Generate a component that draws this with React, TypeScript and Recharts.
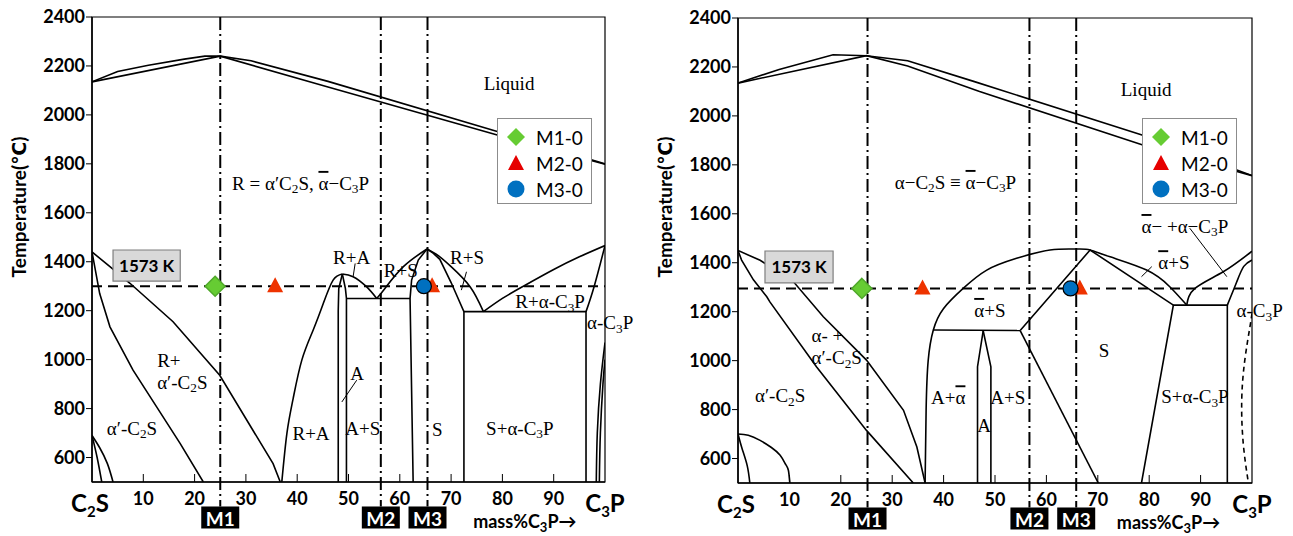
import React from "react";
import {
  ComposedChart,
  Line,
  Scatter,
  XAxis,
  YAxis,
  ReferenceLine,
  ReferenceDot,
  ReferenceArea,
} from "recharts";

type Pt = { x: number; t: number };
const pts = (a: number[][]): Pt[] => a.map(([x, t]) => ({ x, t }));

const X_TICKS = [0, 10, 20, 30, 40, 50, 60, 70, 80, 90, 100];
const Y_TICKS = [600, 800, 1000, 1200, 1400, 1600, 1800, 2000, 2200, 2400];
const M_NAMES = ["M1", "M2", "M3"];
const LEGEND_NAMES = ["M1-0", "M2-0", "M3-0"];

// ---- left diagram: phase boundaries (mass% C3P, °C)
const L_liqUp = pts([[0, 2135], [5, 2177], [11, 2203], [18, 2228], [22, 2240], [25, 2240], [31, 2221], [46, 2137], [79, 1932], [100, 1800]]);
const L_liqLow = pts([[0, 2135], [25, 2240], [46, 2114], [79, 1918], [100, 1798]]);
const L_c2sA = pts([[0, 1440], [1.5, 1270], [3.5, 1134], [8, 957], [12.6, 807], [17.2, 657], [21.7, 500]]);
const L_c2sB = pts([[0, 1440], [3.5, 1380], [7.4, 1312], [15.8, 1155], [24.9, 936], [35.3, 575], [36.7, 500]]);
const L_lowA = pts([[0, 690], [1, 600], [1.9, 500]]);
const L_lowB = pts([[0, 690], [1.5, 640], [3, 575], [4.1, 500]]);
const L_RA_left = pts([[37, 500], [38, 700], [39.2, 840], [40.9, 998], [43.1, 1120], [45.1, 1230], [47, 1325], [48.8, 1350]]);
const L_RA_right = pts([[48.8, 1350], [50.9, 1339], [53.5, 1298], [55.5, 1250]]);
const L_RS_rise = pts([[55.5, 1250], [57.1, 1291], [60.7, 1380], [65.3, 1452]]);
const L_A1 = pts([[48.8, 1350], [48.1, 1290], [48, 1200], [48, 500]]);
const L_A2 = pts([[48.8, 1350], [49.4, 1290], [49.6, 1250], [49.6, 500]]);
const L_eut = pts([[49.6, 1250], [62, 1250]]);
const L_Sleft = pts([[65.3, 1452], [63.6, 1407], [62.3, 1325], [62, 1250], [62.6, 500]]);
const L_Sright = pts([[65.3, 1452], [66.5, 1435], [67.8, 1410], [70, 1315], [72.5, 1196], [72.5, 500]]);
const L_Rbound = pts([[65.3, 1452], [67.5, 1425], [70, 1380], [73.7, 1298], [76.3, 1196]]);
const L_Rrect = pts([[72.5, 1196], [96.3, 1196], [96.3, 500]]);
const L_Rtop = pts([[76.3, 1196], [80, 1250], [84.1, 1300], [90, 1368], [95, 1420], [100, 1466]]);
const L_aC3P = pts([[96.3, 1196], [97.9, 1300], [100, 1466]]);
const L_br1 = pts([[98.3, 500], [98.5, 700], [99.1, 900], [100, 1070]]);
const L_br2 = pts([[98.9, 500], [99.1, 700], [99.6, 900], [100, 1000]]);
const L_leaders = [
  pts([[51.3, 1393], [50.9, 1339]]),
  pts([[51.6, 916], [48.7, 827]]),
  pts([[73.0, 1359], [72.0, 1284]]),
];

// ---- right diagram
const R_liqUp = pts([[0, 2134], [8, 2190], [18.5, 2250], [25, 2246], [33, 2225], [46, 2140], [78.6, 1922], [100, 1756]]);
const R_liqLow = pts([[0, 2134], [25, 2246], [33, 2204], [47, 2100], [78.6, 1882], [100, 1756]]);
const R_c2sA = pts([[0, 1450], [0.7, 1411], [3, 1330], [5.6, 1261], [6.2, 1240], [15.3, 974], [25, 715], [34.1, 500]]);
const R_c2sB = pts([[0, 1450], [4.3, 1410], [10.8, 1322], [16.6, 1179], [25, 1002], [32.2, 797], [34.8, 647], [36.4, 500]]);
const R_arc = pts([[0, 700], [2, 695], [4.3, 674], [6.5, 645], [8.2, 613], [9.3, 575], [9.8, 552], [10.1, 500]]);
const R_arcIn = pts([[0, 700], [0.8, 640], [1.8, 570], [2.3, 500]]);
const R_dome = pts([[36.4, 500], [36.6, 800], [37, 1000], [38, 1125], [40, 1213], [43.8, 1295], [48.4, 1370], [54.2, 1418], [60.7, 1452], [65.9, 1456], [68.5, 1452], [72.4, 1424], [79.5, 1370], [84, 1302], [87.3, 1227]]);
const R_Sup = pts([[54.9, 1123], [68.5, 1452], [84.7, 1227]]);
const R_rect = pts([[78.5, 500], [84.7, 1227], [95.2, 1227], [95.2, 500]]);
const R_rise = pts([[87.3, 1227], [88.9, 1295], [94.4, 1363], [100, 1447]]);
const R_aC3P = pts([[95.2, 1227], [97, 1320], [98.4, 1385], [100, 1411]]);
const R_eut = pts([[38, 1125], [54.9, 1123]]);
const R_A1 = pts([[47.7, 1122], [46.6, 975], [46.6, 500]]);
const R_A2 = pts([[47.7, 1122], [49.2, 975], [49.2, 500]]);
const R_Sbot = pts([[54.9, 1123], [70.1, 500]]);
const R_dash = pts([[100, 1193], [99.6, 1138], [98.6, 1002], [98, 838], [98.3, 661], [99.3, 500]]);
const R_leaders = [
  pts([[87.9, 1541], [95.1, 1343]]),
  pts([[80.5, 1384], [78.5, 1343]]),
];

// ---- experiment points
const L_M1 = pts([[24, 1300]]);
const L_M2 = pts([[35.7, 1300], [66.3, 1300]]);
const L_M3 = pts([[64.7, 1300]]);
const R_M1 = pts([[24.1, 1295]]);
const R_M2 = pts([[35.9, 1295], [66.5, 1295]]);
const R_M3 = pts([[64.7, 1295]]);

const L_MPOS = [25, 56.3, 65.4];
const R_MPOS = [25.2, 56.7, 65.8];

// ---- region labels (s, x, t, anchor)
type Lab = { s: string; x: number; t: number; a: "start" | "middle" };
const L_LABELS: Lab[] = [
  { s: "Liquid", x: 81.3, t: 2131, a: "middle" },
  { s: "R = α′C_2S, ~α−C_3P", x: 27.3, t: 1722, a: "start" },
  { s: "R+A", x: 50.6, t: 1419, a: "middle" },
  { s: "R+S", x: 60.2, t: 1366, a: "middle" },
  { s: "R+S", x: 73.1, t: 1419, a: "middle" },
  { s: "R+α-C_3P", x: 89.3, t: 1238, a: "middle" },
  { s: "α-C_3P", x: 96.5, t: 1153, a: "start" },
  { s: "R+", x: 12.7, t: 998, a: "start" },
  { s: "α′-C_2S", x: 12.7, t: 908, a: "start" },
  { s: "α′-C_2S", x: 7.8, t: 720, a: "middle" },
  { s: "R+A", x: 42.7, t: 700, a: "middle" },
  { s: "A", x: 51.7, t: 945, a: "middle" },
  { s: "A+S", x: 52.8, t: 720, a: "middle" },
  { s: "S", x: 67.3, t: 716, a: "middle" },
  { s: "S+α-C_3P", x: 83.4, t: 720, a: "middle" },
];
const R_LABELS: Lab[] = [
  { s: "Liquid", x: 79.4, t: 2110, a: "middle" },
  { s: "α−C_2S ≡ ~α−C_3P", x: 30.5, t: 1730, a: "start" },
  { s: "~α− +α−C_3P", x: 78.5, t: 1550, a: "start" },
  { s: "~α+S", x: 84.8, t: 1402, a: "middle" },
  { s: "α-C_3P", x: 97, t: 1206, a: "start" },
  { s: "S", x: 71.2, t: 1044, a: "middle" },
  { s: "S+α-C_3P", x: 88.9, t: 854, a: "middle" },
  { s: "A+S", x: 52.5, t: 850, a: "middle" },
  { s: "A", x: 47.9, t: 736, a: "middle" },
  { s: "~α+S", x: 49, t: 1207, a: "middle" },
  { s: "A+~α", x: 40.9, t: 850, a: "middle" },
  { s: "α- +", x: 14.3, t: 1104, a: "start" },
  { s: "α′-C_2S", x: 14.3, t: 1014, a: "start" },
  { s: "α′-C_2S", x: 8.2, t: 858, a: "middle" },
];

const SERIF = "'Liberation Serif', 'DejaVu Serif', serif";
const SANS = "Lato, 'DejaVu Sans', sans-serif";
const LAB_FS = 19;

function rich(s: string, fs: number) {
  const parts: React.ReactNode[] = [];
  let buf = "";
  let dy = 0;
  let k = 0;
  const sub = fs * 0.28;
  const flush = () => {
    if (!buf) return;
    parts.push(<tspan key={k++} dy={dy || undefined}>{buf}</tspan>);
    buf = "";
    dy = 0;
  };
  for (let i = 0; i < s.length; i++) {
    const c = s[i];
    if (c === "_") {
      flush();
      parts.push(
        <tspan key={k++} dy={sub + dy} fontSize={fs * 0.7}>
          {s[++i]}
        </tspan>
      );
      dy = -sub;
    } else if (c === "~") {
      flush();
      parts.push(
        <tspan key={k++} dy={dy || undefined} textDecoration="overline">
          {s[++i]}
        </tspan>
      );
      dy = 0;
    } else buf += c;
  }
  flush();
  return parts;
}

const XTick = (p: any) => {
  const { x, y, payload } = p;
  const v = payload.value;
  const big = { fontFamily: SANS, fontWeight: 700, fontSize: 24, fill: "#000" };
  if (v === 0)
    return (
      <text x={x - 2} y={y + 30} textAnchor="middle" style={big}>
        C<tspan dy={5} fontSize={15}>2</tspan>
        <tspan dy={-5}>S</tspan>
      </text>
    );
  if (v === 100)
    return (
      <text x={x} y={y + 30} textAnchor="middle" style={big}>
        C<tspan dy={5} fontSize={15}>3</tspan>
        <tspan dy={-5}>P</tspan>
      </text>
    );
  return (
    <g>
      <line x1={x} x2={x} y1={y} y2={y - 8} stroke="#000" strokeWidth={1} />
      <text x={x} y={y + 23} textAnchor="middle" style={{ fontFamily: SANS, fontWeight: 700, fontSize: 18, fill: "#000" }}>
        {v}
      </text>
    </g>
  );
};

const diamond = (p: any) => (
  <polygon
    points={`${p.cx},${p.cy - 10} ${p.cx + 10},${p.cy} ${p.cx},${p.cy + 10} ${p.cx - 10},${p.cy}`}
    fill="#66cc33"
    stroke="#4fa82a"
    strokeWidth={1.5}
  />
);
const triangle = (p: any) => (
  <polygon points={`${p.cx},${p.cy - 9} ${p.cx + 8},${p.cy + 6} ${p.cx - 8},${p.cy + 6}`} fill="#ee3300" />
);
const circle = (p: any) => <circle cx={p.cx} cy={p.cy} r={7.5} fill="#0070c0" stroke="#000" strokeWidth={1.2} />;

type Seg = { d: Pt[]; smooth?: boolean; dashed?: boolean };

function Panel(props: {
  segs: Seg[];
  leaders: Pt[][];
  labels: Lab[];
  m1: Pt[];
  m2: Pt[];
  m3: Pt[];
  mPos: number[];
  iso: number;
  kbox: number[];
  massX: number;
  top: number;
  bottom: number;
  right: number;
}) {
  const { segs, leaders, labels, m1, m2, m3, mPos, iso, kbox, massX, top, bottom, right } = props;
  return (
    <ComposedChart width={650} height={536} margin={{ top, right, bottom, left: 32 }}>
      <XAxis
        type="number"
        dataKey="x"
        domain={[0, 100]}
        ticks={X_TICKS}
        interval={0}
        height={30}
        tickSize={0}
        tickMargin={0}
        tickLine={false}
        axisLine={{ stroke: "#000", strokeWidth: 1.5 }}
        tick={(p: any) => <XTick {...p} />}
        allowDataOverflow
      />
      <YAxis
        type="number"
        dataKey="t"
        domain={[500, 2400]}
        ticks={Y_TICKS}
        interval={0}
        width={60}
        tickSize={6}
        tickMargin={1}
        axisLine={{ stroke: "#000", strokeWidth: 1.5 }}
        tickLine={{ stroke: "#000" }}
        tick={{ fill: "#000", fontSize: 18, fontWeight: 700, fontFamily: SANS }}
        allowDataOverflow
        label={(p: any) => (
          <text
            transform="translate(18, 207) rotate(-90)"
            textAnchor="middle"
            dominantBaseline="central"
            style={{ fontFamily: SANS, fontWeight: 700, fontSize: 19, fill: "#000" }}
          >
            Temperature(℃)
          </text>
        )}
      />
      <ReferenceArea x1={0} x2={100} y1={500} y2={2400} fill="none" stroke="#000" strokeWidth={1.2} />
      {segs.map((s, i) => (
        <Line
          key={`s${i}`}
          data={s.d}
          dataKey="t"
          type={s.smooth ? "natural" : "linear"}
          stroke="#000"
          strokeWidth={1.6}
          strokeDasharray={s.dashed ? "5 4" : undefined}
          dot={false}
          activeDot={false}
          isAnimationActive={false}
        />
      ))}
      {leaders.map((d, i) => (
        <Line key={`l${i}`} data={d} dataKey="t" type="linear" stroke="#000" strokeWidth={1} dot={false} activeDot={false} isAnimationActive={false} />
      ))}
      <ReferenceLine y={iso} stroke="#000" strokeWidth={2} strokeDasharray="10 6" />
      {mPos.map((m, i) => (
        <ReferenceLine
          key={`m${i}`}
          segment={[{ x: m, y: 2400 }, { x: m, y: 400 }]}
          stroke="#000"
          strokeWidth={2}
          strokeDasharray="13 4 2 4"
          ifOverflow="visible"
        />
      ))}
      <ReferenceArea
        x1={kbox[0]}
        x2={kbox[1]}
        y1={kbox[2]}
        y2={kbox[3]}
        fill="#d9d9d9"
        fillOpacity={1}
        stroke="#7f7f7f"
        strokeWidth={1.2}
        zIndex={700}
        label={{ value: "1573 K", position: "center", fill: "#000", fontSize: 17, fontWeight: 700, fontFamily: SANS }}
      />
      {labels.map((l, i) => (
        <ReferenceDot
          key={`t${i}`}
          x={l.x}
          y={l.t}
          r={0}
          ifOverflow="visible"
          shape={(pp: any) => (
            <text x={pp.cx} y={pp.cy} textAnchor={l.a} dominantBaseline="central" fontFamily={SERIF} fontSize={LAB_FS} fill="#000">
              {rich(l.s, LAB_FS)}
            </text>
          )}
        />
      ))}
      <Scatter data={m1} shape={diamond} isAnimationActive={false} />
      <Scatter data={m2} shape={triangle} isAnimationActive={false} />
      <Scatter data={m3} shape={circle} isAnimationActive={false} />
      {mPos.map((m, i) => (
        <ReferenceDot
          key={`mb${i}`}
          x={m}
          y={355}
          r={0}
          ifOverflow="visible"
          shape={(pp: any) => (
            <g>
              <rect x={pp.cx - 19} y={pp.cy - 11} width={38} height={22} fill="#000" />
              <text x={pp.cx} y={pp.cy + 1} textAnchor="middle" dominantBaseline="central" style={{ fontFamily: SANS, fontWeight: 700, fontSize: 19, fill: "#fff" }}>
                {M_NAMES[i]}
              </text>
            </g>
          )}
        />
      ))}
      <ReferenceDot
        x={massX}
        y={312}
        r={0}
        ifOverflow="visible"
        shape={(pp: any) => (
          <text x={pp.cx} y={pp.cy} style={{ fontFamily: SANS, fontWeight: 700, fontSize: 18, fill: "#000" }}>
            mass%C<tspan dy={4} fontSize={13}>3</tspan>
            <tspan dy={-4}>P→</tspan>
          </text>
        )}
      />
    </ComposedChart>
  );
}

function LegendBox({ left, top }: { left: number; top: number }) {
  const icons = [
    <polygon key="d" points="10,1 19,10 10,19 1,10" fill="#66cc33" />,
    <polygon key="t" points="10,2 18,17 2,17" fill="#e60000" />,
    <circle key="c" cx={10} cy={10} r={8.5} fill="#0070c0" />,
  ];
  const rows = [18, 44, 70];
  return (
    <div
      style={{
        position: "absolute",
        left,
        top,
        width: 95,
        height: 86,
        boxSizing: "border-box",
        border: "1px solid #8c8c8c",
        background: "#fff",
        fontFamily: SANS,
        fontSize: 19,
        color: "#000",
      }}
    >
      {LEGEND_NAMES.map((n, i) => (
        <div key={n} style={{ position: "absolute", left: 0, top: rows[i] - 13, height: 26, display: "flex", alignItems: "center" }}>
          <svg width={20} height={20} style={{ marginLeft: 8 }}>
            {icons[i]}
          </svg>
          <span style={{ marginLeft: 10 }}>{n}</span>
        </div>
      ))}
    </div>
  );
}

const LEFT_SEGS: Seg[] = [
  { d: L_liqUp }, { d: L_liqLow }, { d: L_c2sA }, { d: L_c2sB },
  { d: L_lowA, smooth: true }, { d: L_lowB, smooth: true },
  { d: L_RA_left, smooth: true }, { d: L_RA_right, smooth: true }, { d: L_RS_rise, smooth: true },
  { d: L_A1 }, { d: L_A2 }, { d: L_eut }, { d: L_Sleft }, { d: L_Sright }, { d: L_Rbound, smooth: true },
  { d: L_Rrect }, { d: L_Rtop, smooth: true }, { d: L_aC3P, smooth: true },
  { d: L_br1, smooth: true }, { d: L_br2, smooth: true },
];
const RIGHT_SEGS: Seg[] = [
  { d: R_liqUp }, { d: R_liqLow }, { d: R_c2sA }, { d: R_c2sB },
  { d: R_arc, smooth: true }, { d: R_arcIn, smooth: true }, { d: R_dome, smooth: true },
  { d: R_Sup }, { d: R_rect }, { d: R_rise, smooth: true }, { d: R_aC3P, smooth: true },
  { d: R_eut }, { d: R_A1 }, { d: R_A2 }, { d: R_Sbot }, { d: R_dash, smooth: true, dashed: true },
];

export default function App() {
  return (
    <div style={{ position: "absolute", left: 0, top: 0, width: 1293, height: 536, background: "#fff" }}>
      <div style={{ position: "absolute", left: 0, top: 0 }}>
        <Panel
          segs={LEFT_SEGS}
          leaders={L_leaders}
          labels={L_LABELS}
          m1={L_M1}
          m2={L_M2}
          m3={L_M3}
          mPos={L_MPOS}
          iso={1300}
          kbox={[4.1, 17.2, 1321, 1448]}
          massX={74.3}
          top={17}
          bottom={24}
          right={45}
        />
      </div>
      <div style={{ position: "absolute", left: 646, top: 0 }}>
        <Panel
          segs={RIGHT_SEGS}
          leaders={R_leaders}
          labels={R_LABELS}
          m1={R_M1}
          m2={R_M2}
          m3={R_M3}
          mPos={R_MPOS}
          iso={1295}
          kbox={[5.25, 18.5, 1318, 1448]}
          massX={73.7}
          top={18}
          bottom={23}
          right={44}
        />
      </div>
      <LegendBox left={497} top={118} />
      <LegendBox left={1142} top={118} />
    </div>
  );
}
